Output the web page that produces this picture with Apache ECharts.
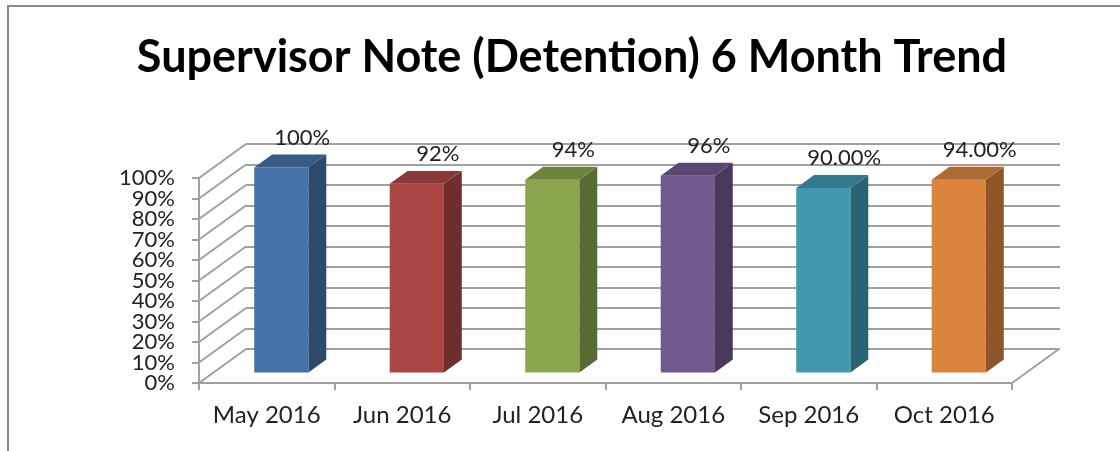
<!DOCTYPE html>
<html lang="en">
<head>
  <meta charset="UTF-8">
  <title>Supervisor Note (Detention) 6 Month Trend</title>
  <script src="https://cdn.jsdelivr.net/npm/echarts@6.0.0/dist/echarts.min.js"></script>
</head>
<body style="margin: 0;padding: 0;">
  <div id="main" style="width: 1120px;height: 451px;"></div>
  <script>
    var months = ['May 2016', 'Jun 2016', 'Jul 2016', 'Aug 2016', 'Sep 2016', 'Oct 2016'];
    var values = [100, 92, 94, 96, 90, 94];
    var valueLabels = ['100%', '92%', '94%', '96%', '90.00%', '94.00%'];
    var barColors = ['#4572a7', '#aa4643', '#89a54e', '#71588f', '#4198af', '#db843d'];
    var yTicks = [0, 10, 20, 30, 40, 50, 60, 70, 80, 90, 100];

    // depth of the fake 3d box (back wall offset)
    var DX = 47, DY = -34;
    var barFront = 0.31, barBack = 0.69;
    var lineColor = '#a0a0a0';
    var font = 'Lato, "Open Sans", sans-serif';

    function shade(hex, k) {
      var n = parseInt(hex.slice(1), 16);
      var r = Math.round(((n >> 16) & 255) * k);
      var g = Math.round(((n >> 8) & 255) * k);
      var b = Math.round((n & 255) * k);
      return 'rgb(' + r + ',' + g + ',' + b + ')';
    }

    function renderBar(params, api) {
      var i = api.value(0), v = api.value(1);
      var base = api.coord([i, 0]);
      var top = api.coord([i, v]);
      var w = api.size([1, 0])[0] * 0.4;
      var ox = DX * barFront, oy = DY * barFront;
      var ddx = DX * (barBack - barFront), ddy = DY * (barBack - barFront);
      var x0 = base[0] - w / 2 + ox, x1 = x0 + w;
      var yb = base[1] + oy, yt = top[1] + oy;
      var c = barColors[i];
      return {
        type: 'group',
        children: [
          { type: 'rect', shape: { x: x0, y: yt, width: w, height: yb - yt }, style: { fill: c } },
          { type: 'polygon', shape: { points: [[x1, yt], [x1 + ddx, yt + ddy], [x1 + ddx, yb + ddy], [x1, yb]] }, style: { fill: shade(c, 0.65) } },
          { type: 'polygon', shape: { points: [[x0, yt], [x1, yt], [x1 + ddx, yt + ddy], [x0 + ddx, yt + ddy]] }, style: { fill: shade(c, 0.8) } },
          {
            type: 'text',
            style: {
              text: valueLabels[i], x: (x0 + x1) / 2 + ddx / 2 + 12, y: yt + ddy - 17,
              align: 'center', verticalAlign: 'middle',
              fontFamily: font, fontSize: 22, fill: '#222'
            }
          }
        ]
      };
    }

    // side wall and floor diagonals, plus the y tick labels (they sit too tight for the axis to keep them all)
    function renderWall(params, api) {
      var cs = params.coordSys;
      var v = api.value(1);
      var p = api.coord([0, v]);
      var st = { stroke: lineColor, lineWidth: 2 };
      var kids = [
        { type: 'line', shape: { x1: cs.x, y1: p[1], x2: cs.x + DX, y2: p[1] + DY }, style: st },
        {
          type: 'text',
          style: {
            text: v + '%', x: cs.x - 24, y: p[1], align: 'right', verticalAlign: 'middle',
            fontFamily: font, fontSize: 22, fill: '#222'
          }
        }
      ];
      if (v === 0) {
        kids.push({ type: 'line', shape: { x1: cs.x + cs.width, y1: p[1], x2: cs.x + cs.width + DX, y2: p[1] + DY }, style: st });
      }
      return { type: 'group', children: kids };
    }

    var chartDom = document.getElementById('main');
    var myChart = echarts.init(chartDom);
    var option = {
      animation: false,
      backgroundColor: '#fff',
      title: {
        text: 'Supervisor Note (Detention) 6 Month Trend',
        left: 567,
        textAlign: 'center',
        top: 30,
        textStyle: { fontFamily: font, fontWeight: 'bold', fontSize: 45, color: '#000' }
      },
      graphic: [{
        type: 'rect', z: -1,
        shape: { x: 8, y: 6, width: 1200, height: 500 },
        style: { fill: 'none', stroke: '#888', lineWidth: 2 }
      }],
      grid: [
        { left: 199, right: 108, top: 178, bottom: 68 },
        { left: 246, right: 60, top: 144, bottom: 102 }
      ],
      xAxis: [
        {
          type: 'category', gridIndex: 0, data: months,
          axisLine: { lineStyle: { color: lineColor, width: 2 } },
          axisTick: { show: true, length: 7, lineStyle: { color: lineColor, width: 2 } },
          axisLabel: { fontFamily: font, fontSize: 24, color: '#222', margin: 20, interval: 0 }
        },
        {
          type: 'category', gridIndex: 1, data: months, show: false
        }
      ],
      yAxis: [
        {
          type: 'value', gridIndex: 0, min: 0, max: 100, interval: 10,
          axisLine: { show: true, onZero: false, lineStyle: { color: lineColor, width: 2 } },
          axisTick: { show: true, length: 7, lineStyle: { color: lineColor, width: 2 } },
          splitLine: { show: false },
          axisLabel: { show: false }
        },
        {
          type: 'value', gridIndex: 1, min: 0, max: 100, interval: 10,
          axisLine: { show: false }, axisTick: { show: false }, axisLabel: { show: false },
          splitLine: { show: true, lineStyle: { color: lineColor, width: 2 } }
        }
      ],
      series: [
        {
          type: 'custom', xAxisIndex: 0, yAxisIndex: 0, z: 1,
          renderItem: renderWall,
          data: yTicks.map(function (t) { return [0, t]; })
        },
        {
          type: 'custom', xAxisIndex: 0, yAxisIndex: 0, z: 5,
          renderItem: renderBar,
          data: values.map(function (v, i) { return [i, v]; })
        }
      ]
    };

    option && myChart.setOption(option);
  </script>
</body>
</html>
